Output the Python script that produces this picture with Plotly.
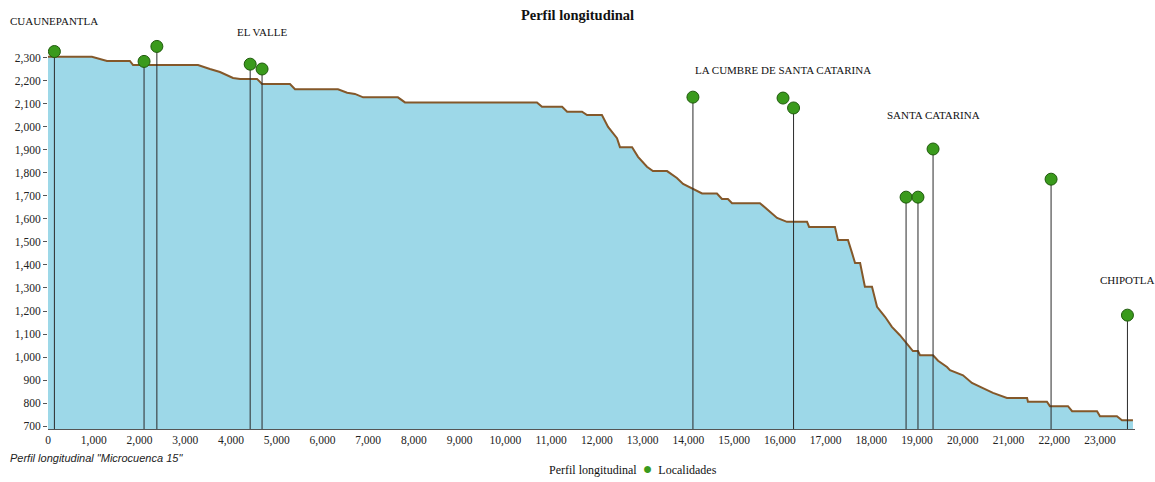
import plotly.graph_objects as go

# perfil longitudinal (distancia en m, elevacion en msnm)
dist = [0, 960, 1290, 1790, 1860, 3280, 3540, 3760, 4045, 4200, 4570, 4680, 5290,
        5400, 6340, 6540, 6710, 6890, 7650, 7805, 10690, 10800, 11240, 11350, 11675,
        11785, 12110, 12245, 12440, 12505, 12770, 12900, 13095, 13225, 13535, 13750,
        13885, 14100, 14300, 14625, 14735, 14865, 14955, 15565, 15785, 15940, 16155,
        16595, 16640, 17205, 17270, 17490, 17580, 17645, 17755, 17860, 18015, 18125,
        18300, 18450, 18625, 18800, 18910, 19020, 19065, 19350, 19460, 19655, 19720,
        20005, 20200, 20440, 20660, 20965, 21405, 21425, 21840, 21905, 22300, 22390,
        22935, 23000, 23370, 23480, 23720]
elev = [2303, 2303, 2285, 2285, 2267, 2267, 2250, 2237, 2211, 2207, 2207, 2185, 2185,
        2162, 2162, 2147, 2142, 2127, 2127, 2105, 2105, 2086, 2086, 2065, 2065,
        2050, 2050, 1999, 1950, 1911, 1911, 1869, 1826, 1807, 1807, 1777,
        1751, 1729, 1710, 1710, 1686, 1686, 1668, 1668, 1630, 1604, 1587,
        1587, 1565, 1565, 1508, 1508, 1451, 1408, 1408, 1305, 1305, 1218,
        1175, 1131, 1095, 1052, 1026, 1026, 1008, 1008, 984, 957, 943,
        921, 888, 865, 845, 823, 823, 806, 806, 787, 787, 765,
        765, 743, 743, 726, 726]

# localidades
loc_dist = [140, 2100, 2380, 4420, 4680, 14100, 16070, 16300, 18760, 19020, 19350, 21930, 23600]
loc_elev = [2326, 2283, 2348, 2271, 2250, 2128, 2124, 2081, 1694, 1694, 1903, 1772, 1182]
loc_stem = [True, True, True, True, True, True, False, True, True, True, True, True, True]
loc_name = ["CUAUNEPANTLA", "", "", "", "EL VALLE", "", "LA CUMBRE DE SANTA CATARINA",
            "", "", "", "SANTA CATARINA", "", "CHIPOTLA"]
label_shift = [23, 0, 0, 0, 29, 0, 20, 0, 0, 0, 26, 0, 27]

y_ticks = [700, 800, 900, 1000, 1100, 1200, 1300, 1400, 1500, 1600, 1700, 1800,
           1900, 2000, 2100, 2200, 2300]

y_min = 688
y_max = 2454
serif = "Liberation Serif, Times New Roman, serif"

fig = go.Figure()

fig.add_trace(go.Scatter(
    x=dist, y=elev, mode="lines", fill="tozeroy",
    fillcolor="#9dd8e8", line=dict(color="#84582a", width=2),
    name="Perfil longitudinal", showlegend=False))

# lineas verticales de cada localidad
sx, sy = [], []
for d, e, s in zip(loc_dist, loc_elev, loc_stem):
    if s:
        sx += [d, d, None]
        sy += [e, y_min, None]
fig.add_trace(go.Scatter(x=sx, y=sy, mode="lines",
                         line=dict(color="#2a2a2a", width=1),
                         showlegend=False, hoverinfo="skip"))

fig.add_trace(go.Scatter(
    x=loc_dist, y=loc_elev, mode="markers", name="Localidades",
    marker=dict(size=12, color="#3a9a1c", line=dict(color="#1f5a0c", width=1)),
    showlegend=False))

for d, e, n, sh in zip(loc_dist, loc_elev, loc_name, label_shift):
    if n:
        fig.add_annotation(x=d, y=e, text=n, showarrow=False, yshift=sh,
                           yanchor="bottom", font=dict(family=serif, size=11, color="#111"))

fig.add_annotation(xref="paper", yref="paper", x=0.5, y=0, xanchor="center",
                   yanchor="top", yshift=-29, xshift=41, showarrow=False,
                   text="Perfil longitudinal  <span style='color:#3a9a1c;font-size:16px'>●</span>  Localidades",
                   font=dict(family=serif, size=12, color="#111"))
fig.add_annotation(xref="paper", yref="paper", x=0, y=0, xanchor="left",
                   yanchor="top", xshift=-40, yshift=-21, showarrow=False,
                   text="<i>Perfil longitudinal \"Microcuenca 15\"</i>",
                   font=dict(family="Liberation Sans, Arial, sans-serif", size=11, color="#222"))

fig.update_layout(
    width=1155, height=482,
    margin=dict(l=48, r=20, t=22, b=53),
    paper_bgcolor="white", plot_bgcolor="white",
    title=dict(text="<b>Perfil longitudinal</b>", x=0.5, xref="container",
               y=0.968, yanchor="middle",
               font=dict(family=serif, size=14.5, color="#111")),
    xaxis=dict(range=[0, 23765], dtick=1000, tickformat=",", showgrid=False,
               zeroline=False, showline=True, linecolor="#555", linewidth=1,
               ticks="", tickfont=dict(family=serif, size=11.5, color="#222")),
    yaxis=dict(range=[y_min, y_max], tickvals=y_ticks, tickformat=",",
               showgrid=False, zeroline=False, showline=False,
               ticks="outside", ticklen=4, tickcolor="#555",
               tickfont=dict(family=serif, size=11.5, color="#222")),
    showlegend=False,
)

fig.write_html("out.html", config={"displayModeBar": False},
               post_script="document.body.style.margin='0';")
